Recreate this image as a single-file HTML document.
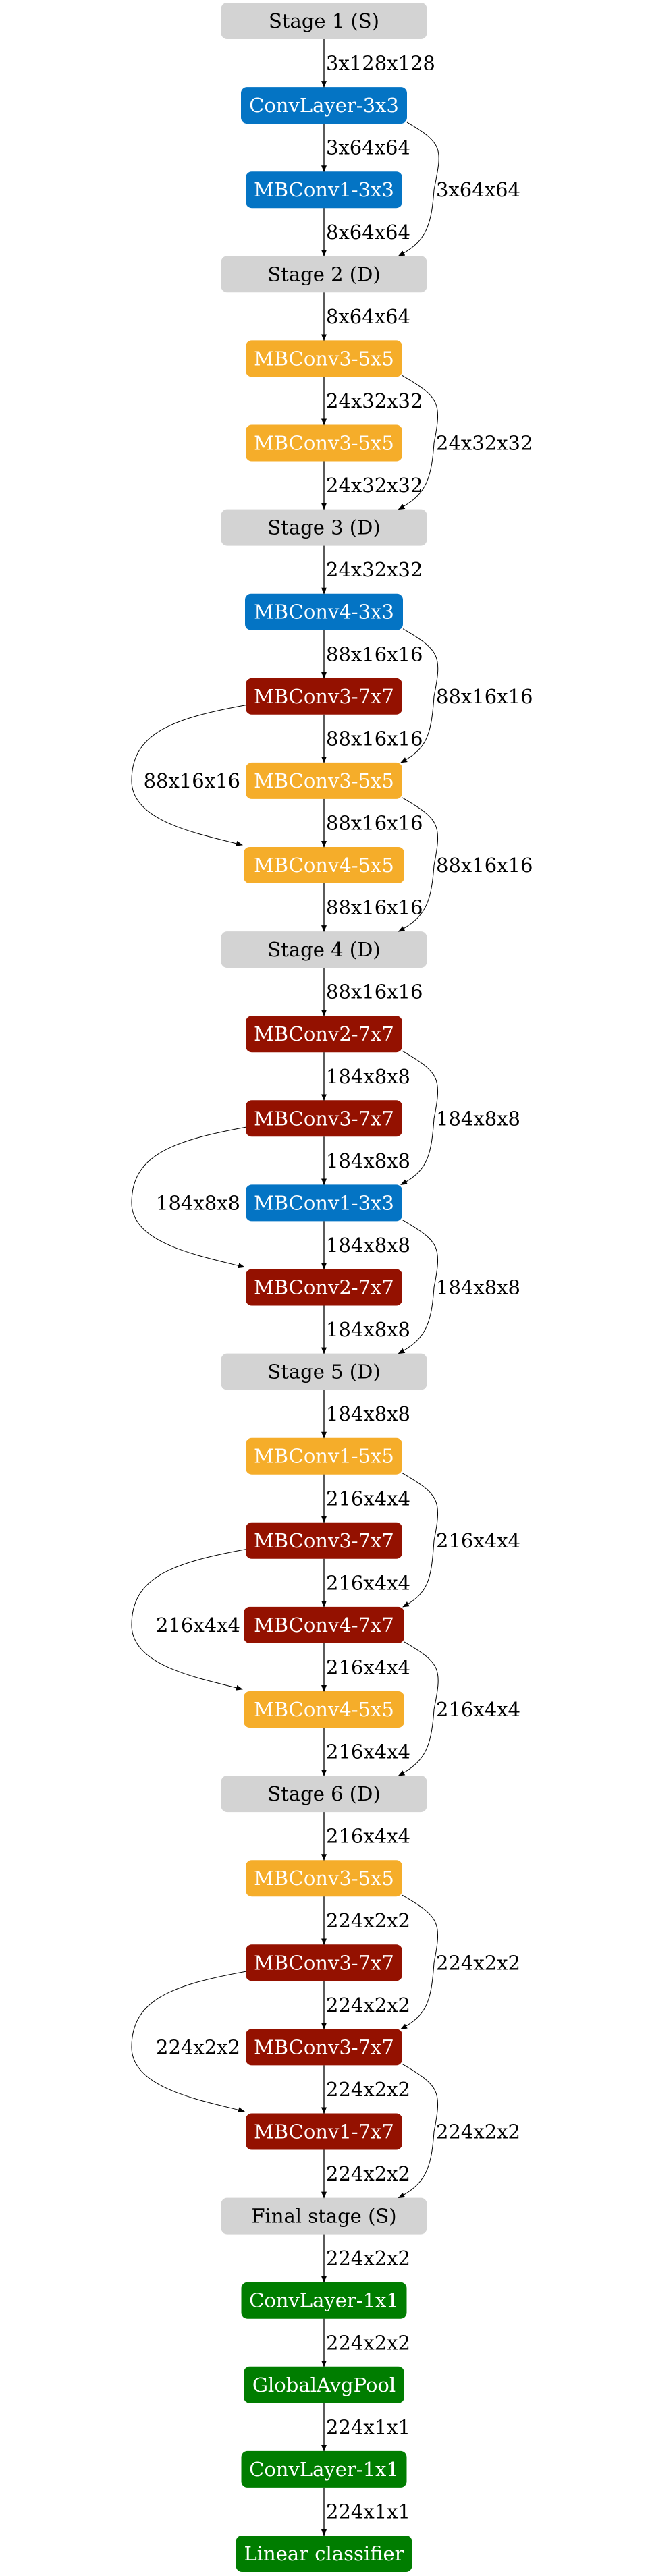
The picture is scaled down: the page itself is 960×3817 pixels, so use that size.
<!DOCTYPE html>
<html><head><meta charset="utf-8"><style>
html,body{margin:0;padding:0;background:#fff;width:960px;height:3817px;overflow:hidden}
svg{display:block}
text{font-family:"DejaVu Serif","Liberation Serif",serif;font-size:29px}
</style></head><body>
<svg id="s" width="960" height="3817" viewBox="0 0 960 3817" xmlns="http://www.w3.org/2000/svg">
<defs><marker id="a" markerWidth="10" markerHeight="8" refX="9" refY="4" orient="auto" markerUnits="userSpaceOnUse"><path d="M0,0 L10,4 L0,8 z" fill="#000"/></marker></defs>
</svg>
<script>
const G="#d3d3d3",B="#0474c4",O="#f5ad2a",R="#941100",N="#007d00";
const nodes=[
["Stage 1 (S)",G,305],["ConvLayer-3x3",B,246],["MBConv1-3x3",B,232],["Stage 2 (D)",G,305],
["MBConv3-5x5",O,232],["MBConv3-5x5",O,232],["Stage 3 (D)",G,305],["MBConv4-3x3",B,234],
["MBConv3-7x7",R,232],["MBConv3-5x5",O,232],["MBConv4-5x5",O,238],["Stage 4 (D)",G,305],
["MBConv2-7x7",R,232],["MBConv3-7x7",R,232],["MBConv1-3x3",B,232],["MBConv2-7x7",R,232],
["Stage 5 (D)",G,305],["MBConv1-5x5",O,232],["MBConv3-7x7",R,232],["MBConv4-7x7",R,238],
["MBConv4-5x5",O,238],["Stage 6 (D)",G,305],["MBConv3-5x5",O,232],["MBConv3-7x7",R,232],
["MBConv3-7x7",R,232],["MBConv1-7x7",R,232],["Final stage (S)",G,305],["ConvLayer-1x1",N,245],
["GlobalAvgPool",N,238],["ConvLayer-1x1",N,245],["Linear classifier",N,261]];
const labels=["3x128x128","3x64x64","8x64x64","8x64x64","24x32x32","24x32x32","24x32x32","88x16x16","88x16x16","88x16x16","88x16x16","88x16x16","184x8x8","184x8x8","184x8x8","184x8x8","184x8x8","216x4x4","216x4x4","216x4x4","216x4x4","216x4x4","224x2x2","224x2x2","224x2x2","224x2x2","224x2x2","224x2x2","224x1x1","224x1x1"];
const skips=[[1,"R","3x64x64"],[4,"R","24x32x32"],[7,"R","88x16x16"],[8,"L","88x16x16"],[9,"R","88x16x16"],[12,"R","184x8x8"],[13,"L","184x8x8"],[14,"R","184x8x8"],[17,"R","216x4x4"],[18,"L","216x4x4"],[19,"R","216x4x4"],[22,"R","224x2x2"],[23,"L","224x2x2"],[24,"R","224x2x2"]];
const CX=480,H=54,P=125.1,T=i=>4+P*i;
let s="";
nodes.forEach((n,i)=>{const w=n[2],y=T(i);
s+=`<rect x="${CX-w/2}" y="${y}" width="${w}" height="${H}" rx="9" fill="${n[1]}"/>`;
s+=`<text x="${CX}" y="${y+37}" text-anchor="middle" fill="${n[1]==G?'#000':'#fff'}">${n[0]}</text>`;});
labels.forEach((l,i)=>{const y1=T(i)+H,y2=T(i+1);
s+=`<line x1="${CX}" y1="${y1}" x2="${CX}" y2="${y2}" stroke="#000" stroke-width="1.3" marker-end="url(#a)"/>`;
s+=`<text x="${CX+3}" y="${(y1+y2)/2+10}">${l}</text>`;});
skips.forEach(([r,side,l])=>{const y1=T(r)+H,y2=T(r+2),ym=T(r+1)+H/2;
if(side=="R"){const x1=CX+w2(r),x2=CX+w2(r+2)-Math.min(0,0);
s+=`<path d="M${x1},${y1-2} C${x1+55},${y1+30} ${643+12},${ym-60} 643,${ym} C${643-4},${ym+60} ${x2+35},${y2-20} ${x2-2},${y2}" fill="none" stroke="#000" stroke-width="1" marker-end="url(#a)"/>`;
s+=`<text x="646" y="${ym+10}">${l}</text>`;}
else{const x1=CX-w2(r),x2=CX-w2(r+2);
s+=`<path d="M${x1},${T(r)+40} C${x1-110},${T(r)+60} 195,${ym-70} 195,${ym} C195,${ym+60} ${x2-70},${y2-20} ${x2-2},${y2-3}" fill="none" stroke="#000" stroke-width="1" marker-end="url(#a)"/>`;
s+=`<text x="356" y="${ym+10}" text-anchor="end">${l}</text>`;}});
function w2(i){return nodes[i][2]/2-(nodes[i][1]==G?40:0);}
document.getElementById("s").insertAdjacentHTML("beforeend",s);
</script>
</body></html>
